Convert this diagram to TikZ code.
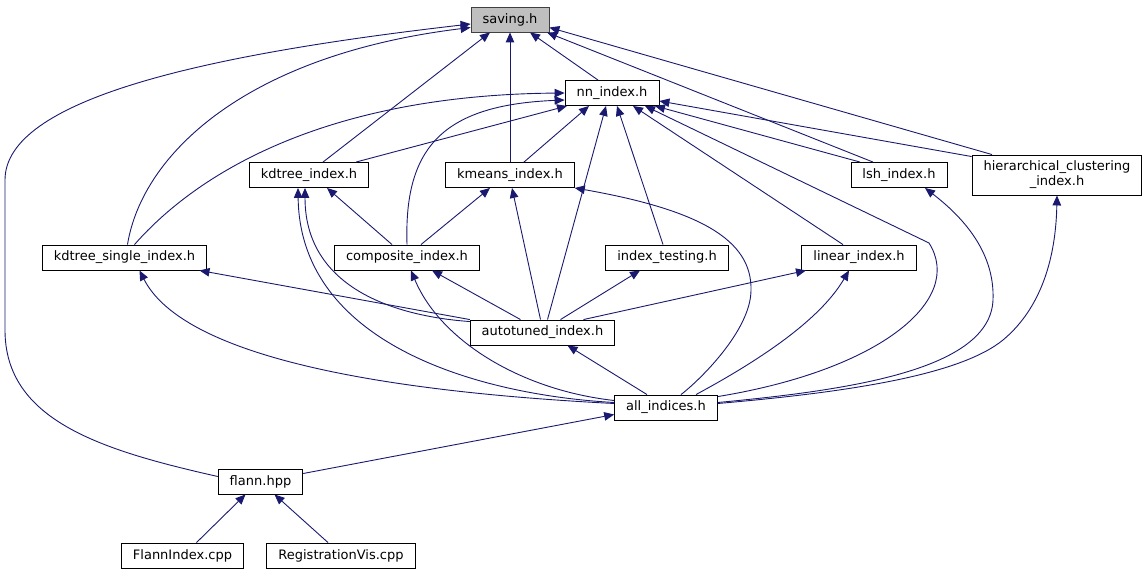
\documentclass[tikz,border=0pt]{standalone}
\usepackage{fontspec}
\setmainfont{DejaVu Sans}
\usetikzlibrary{arrows.meta}
\definecolor{edgeblue}{HTML}{191970}
\definecolor{rootfill}{HTML}{BFBFBF}
\definecolor{rootline}{HTML}{404040}
\begin{document}
\begin{tikzpicture}[x=1pt,y=-1pt,
  every node/.style={draw=black,fill=white,line width=0.9pt,minimum height=25pt,
    inner xsep=11.5pt,inner ysep=2pt,font=\fontsize{13pt}{15pt}\selectfont},
  root/.style={fill=rootfill,draw=rootline},
  dep/.style={draw=edgeblue,line width=0.9pt,-{Triangle[length=10pt,width=8.5pt]}}]

\useasboundingbox (0,0) rectangle (1146,575);
  \node[root] (n1) at (510,19.5) {saving.h};
  \node (n21) at (612,93) {nn\_index.h};
  \node (n31) at (309,175) {kdtree\_index.h};
  \node (n32) at (510,175) {kmeans\_index.h};
  \node (n33) at (899,175) {lsh\_index.h};
  \node[align=center,minimum height=40pt,inner ysep=1pt] (n34) at (1057,175) {hierarchical\_clustering\\\_index.h};
  \node (n41) at (124.5,257.5) {kdtree\_single\_index.h};
  \node (n42) at (407,257.5) {composite\_index.h};
  \node (n43) at (667,257.5) {index\_testing.h};
  \node (n44) at (859,257.5) {linear\_index.h};
  \node (n51) at (542.5,332.5) {autotuned\_index.h};
  \node (n61) at (666,407.5) {all\_indices.h};
  \node (n71) at (260.5,481.5) {flann.hpp};
  \node (n81) at (182.5,555.5) {FlannIndex.cpp};
  \node (n82) at (341,555.5) {RegistrationVis.cpp};
  % includes of saving.h
  \draw[dep] ([yshift=5pt]n71.west) .. controls (100,450) and (5,420) .. (5,330) -- (5,180)
    .. controls (5,100) and (200,55) .. ([yshift=-4.5pt]n1.west);
  \draw[dep] ([xshift=3pt]n41.north) .. controls (142,155) and (245,55) .. ([yshift=-8pt]n1.west);
  \draw[dep] ([xshift=14pt]n31.north) -- ([xshift=-20pt]n1.south);
  \draw[dep] (n32.north) -- (n1.south);
  \draw[dep] ([xshift=-14pt]n21.north) -- ([xshift=20pt]n1.south);
  \draw[dep] ([xshift=-26pt]n33.north) -- ([xshift=37pt]n1.south);
  \draw[dep] ([xshift=-65pt]n34.north) -- ([yshift=-8pt]n1.east);
  % includes of nn_index.h
  \draw[dep] ([xshift=10pt]n41.north) .. controls (200,170) and (330,95) .. (n21.west);
  \draw[dep] (n42.north) .. controls (404,150) and (440,105) .. ([yshift=-7pt]n21.west);
  \draw[dep] ([xshift=47pt]n31.north) -- ([xshift=-45pt]n21.south);
  \draw[dep] ([xshift=14pt]n32.north) -- ([xshift=-23pt]n21.south);
  \draw[dep] ([xshift=5pt]n51.north) -- ([xshift=-6pt]n21.south);
  \draw[dep] ([xshift=-4pt]n43.north) -- ([xshift=5pt]n21.south);
  \draw[dep] ([xshift=-16pt]n44.north) -- ([xshift=21pt]n21.south);
  \draw[dep] ([yshift=-2pt]n61.north east) .. controls (880,370) and (965,300) .. (929,243)
    -- ([xshift=33pt]n21.south);
  \draw[dep] ([xshift=-39pt]n33.north) -- ([xshift=43pt]n21.south);
  \draw[dep] ([yshift=-2pt]n34.north west) -- ([yshift=-8pt]n21.east);
  % includes of the index headers
  \draw[dep] ([xshift=-15pt]n42.north) -- ([xshift=18pt]n31.south);
  \draw[dep] ([xshift=14pt]n42.north) -- ([xshift=-20pt]n32.south);
  \draw[dep] ([yshift=-2pt]n51.north west) .. controls (420,318) and (305,300) .. ([xshift=-4pt]n31.south);
  \draw[dep] ([yshift=5pt]n61.west) .. controls (480,395) and (300,345) .. ([xshift=-11pt]n31.south);
  \draw[dep] (n51.north west) -- ([xshift=75pt]n41.south);
  \draw[dep] ([yshift=4pt]n61.west) .. controls (350,390) and (180,350) .. ([xshift=15pt]n41.south);
  \draw[dep] ([xshift=-22pt]n51.north) -- ([xshift=25pt]n42.south);
  \draw[dep] ([yshift=7pt]n61.west) .. controls (520,390) and (440,340) .. ([xshift=4pt]n42.south);
  \draw[dep] ([xshift=-2pt]n51.north) -- ([xshift=2pt]n32.south);
  \draw[dep] ([xshift=15pt]n61.north) .. controls (700,380) and (751,330) .. (751,290)
    .. controls (752,240) and (700,210) .. (n32.south east);
  \draw[dep] ([xshift=18pt]n51.north) -- ([xshift=-27pt]n43.south);
  \draw[dep] ([xshift=41pt]n51.north) -- ([xshift=-53pt]n44.south);
  \draw[dep] ([xshift=30pt]n61.north) .. controls (760,360) and (820,320) .. ([xshift=-10pt]n44.south);
  \draw[dep] ([yshift=5pt]n61.east) .. controls (850,390) and (990,370) .. (993,300)
    .. controls (995,250) and (960,215) .. ([xshift=26pt]n33.south);
  \draw[dep] ([yshift=4pt]n61.east) .. controls (850,392) and (960,375) .. (1003,340)
    .. controls (1045,305) and (1056,250) .. (n34.south);
  % lower part
  \draw[dep] ([xshift=-19pt]n61.north) -- ([xshift=25pt]n51.south);
  \draw[dep] ([yshift=8pt]n71.east) -- ([yshift=-7pt]n61.west);
  \draw[dep] ([xshift=14pt]n81.north) -- ([xshift=-15pt]n71.south);
  \draw[dep] ([xshift=-13pt]n82.north) -- ([xshift=14pt]n71.south);
 \end{tikzpicture}
\end{document}
